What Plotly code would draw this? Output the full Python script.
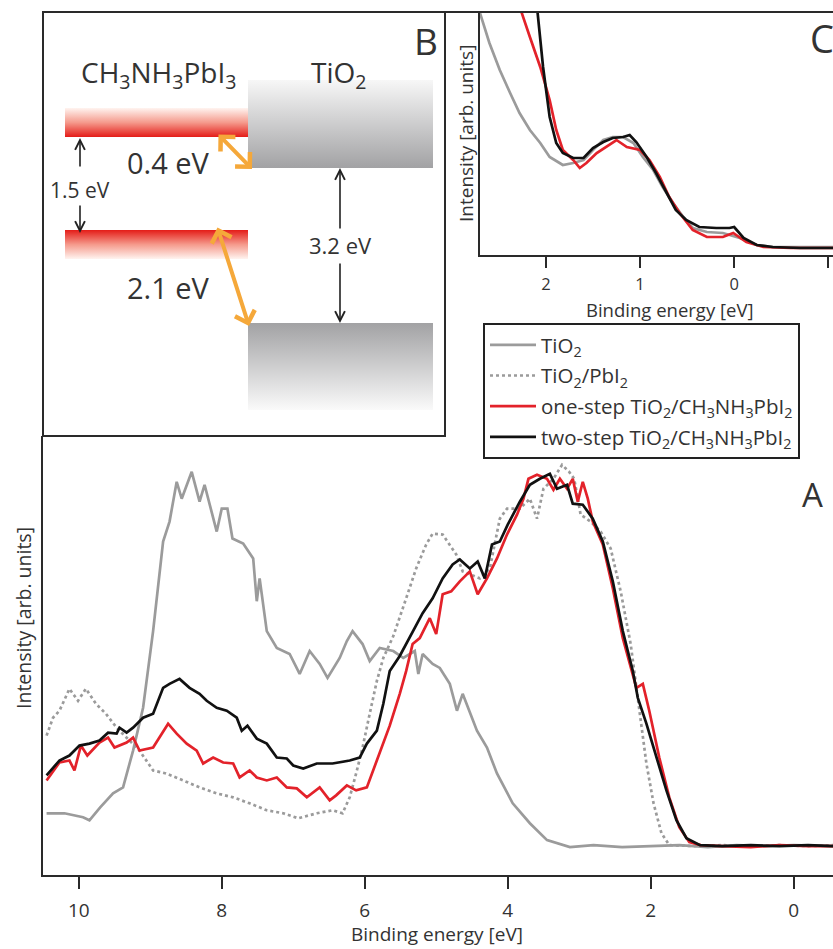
import plotly.graph_objects as go

# ---------------- data: main panel A (binding energy [eV] vs intensity [arb.]) ----------------
e_tio2 = [10.45, 10.2, 9.94, 9.85, 9.7, 9.52, 9.38, 9.24, 9.1, 8.96, 8.82, 8.73, 8.63, 8.56, 8.42,
          8.31, 8.24, 8.07, 8.0, 7.92, 7.85, 7.7, 7.56, 7.51, 7.47, 7.37, 7.23, 7.05, 6.91, 6.77,
          6.63, 6.52, 6.35, 6.25, 6.17, 6.03, 5.93, 5.79, 5.6, 5.46, 5.3, 5.25, 5.19, 5.05, 4.95,
          4.81, 4.71, 4.63, 4.43, 4.29, 4.15, 3.93, 3.69, 3.45, 3.13, 2.8, 2.4, 2.0, 1.6, 1.2,
          0.8, 0.4, 0.0, -0.55]
i_tio2 = [62, 62, 58, 55, 68, 82, 88, 125, 168, 245, 335, 355, 395, 378, 405,
          375, 392, 345, 368, 368, 338, 333, 318, 275, 298, 245, 228, 222, 202, 225,
          212, 198, 218, 235, 245, 232, 215, 228, 225, 218, 225, 202, 222, 212, 208,
          192, 165, 182, 145, 128, 102, 72, 52, 35, 28, 30, 28, 29, 30, 28,
          30, 29, 30, 29]

e_pbi2 = [10.45, 10.36, 10.27, 10.13, 10.01, 9.9, 9.76, 9.62, 9.47, 9.33, 9.15, 8.96, 8.78, 8.54,
          8.31, 8.07, 7.84, 7.61, 7.37, 7.14, 6.93, 6.67, 6.45, 6.31, 6.21, 6.12, 6.03, 5.93, 5.83,
          5.74, 5.6, 5.42, 5.28, 5.14, 5.05, 4.91, 4.81, 4.72, 4.63, 4.53, 4.39, 4.25, 4.11, 4.01,
          3.83, 3.69, 3.59, 3.5, 3.36, 3.24, 3.14, 3.07, 2.98, 2.84, 2.7, 2.56, 2.42, 2.28, 2.14,
          2.06, 1.96, 1.85, 1.74, 1.4, 1.0, 0.6, 0.2, -0.2, -0.55]
i_pbi2 = [140, 158, 165, 187, 175, 187, 172, 162, 148, 138, 125, 105, 102, 95,
          88, 82, 78, 72, 65, 62, 57, 62, 65, 62, 78, 102, 128, 162, 195,
          218, 240, 278, 308, 332, 343, 342, 332, 322, 305, 302, 298, 308, 358, 368,
          368, 378, 358, 388, 398, 412, 405, 398, 362, 355, 345, 328, 285, 232, 158,
          112, 72, 42, 30, 29, 30, 29, 30, 29, 30]

e_one = [10.45, 10.27, 10.13, 10.06, 9.97, 9.88, 9.71, 9.59, 9.5, 9.33, 9.24, 9.15, 8.96, 8.87,
         8.75, 8.63, 8.49, 8.35, 8.26, 8.12, 7.98, 7.84, 7.75, 7.61, 7.51, 7.37, 7.23, 7.09, 6.95,
         6.81, 6.63, 6.49, 6.4, 6.25, 6.12, 5.97, 5.88, 5.79, 5.65, 5.51, 5.42, 5.33, 5.23, 5.09,
         5.0, 4.91, 4.79, 4.67, 4.53, 4.42, 4.29, 4.15, 4.01, 3.87, 3.78, 3.71, 3.59, 3.45, 3.36,
         3.27, 3.17, 3.09, 3.02, 2.95, 2.88, 2.81, 2.67, 2.53, 2.39, 2.2, 2.11, 2.02, 1.88, 1.74,
         1.6, 1.46, 1.3, 1.0, 0.6, 0.2, -0.2, -0.55]
i_one = [95, 113, 115, 105, 130, 120, 133, 138, 128, 133, 138, 125, 128, 138,
         152, 142, 132, 125, 112, 118, 113, 112, 98, 105, 98, 95, 98, 88, 87,
         78, 88, 75, 80, 90, 85, 88, 105, 122, 150, 182, 205, 232, 238, 258,
         242, 282, 285, 295, 305, 282, 298, 318, 342, 362, 378, 398, 402, 398, 387,
         398, 388, 398, 375, 395, 378, 355, 332, 288, 238, 188, 192, 165, 118, 78,
         48, 33, 30, 29, 28, 30, 29, 29]

e_two = [10.45, 10.27, 10.13, 9.99, 9.85, 9.71, 9.59, 9.47, 9.43, 9.33, 9.24, 9.1, 8.96, 8.82,
         8.73, 8.59, 8.45, 8.31, 8.21, 8.07, 7.93, 7.79, 7.72, 7.64, 7.51, 7.37, 7.23, 7.09, 7.0,
         6.86, 6.67, 6.45, 6.21, 6.07, 5.97, 5.83, 5.74, 5.65, 5.51, 5.33, 5.19, 5.05, 4.91, 4.77,
         4.67, 4.53, 4.42, 4.32, 4.22, 4.11, 4.0, 3.83, 3.69, 3.55, 3.41, 3.31, 3.17, 3.09, 2.95,
         2.81, 2.67, 2.53, 2.39, 2.25, 2.18, 2.06, 1.92, 1.78, 1.64, 1.5, 1.31, 1.0, 0.6, 0.2,
         -0.2, -0.55]
i_two = [100, 115, 120, 130, 132, 135, 143, 142, 148, 143, 148, 158, 162, 188,
         192, 197, 188, 182, 175, 168, 165, 158, 145, 150, 137, 132, 118, 117, 110,
         107, 112, 112, 115, 118, 132, 145, 172, 205, 220, 245, 263, 278, 298, 312,
         317, 308, 315, 298, 332, 335, 352, 375, 392, 398, 403, 388, 392, 373, 372,
         358, 335, 295, 245, 205, 178, 152, 118, 85, 55, 37, 30, 29, 30, 29,
         30, 29]

# ---------------- data: inset C (valence band edge zoom) ----------------
c_e_tio2 = [2.75, 2.70, 2.60, 2.49, 2.38, 2.28, 2.17, 2.06, 1.96, 1.82, 1.71, 1.60, 1.50, 1.39, 1.29,
            1.18, 1.07, 0.97, 0.86, 0.76, 0.65, 0.54, 0.44, 0.29, 0.12, -0.06, -0.24, -0.41, -0.78, -1.05]
c_i_tio2 = [250, 242, 212, 185, 162, 142, 125, 112, 98, 90, 92, 95, 105, 115, 118,
            118, 112, 98, 85, 68, 52, 38, 27, 23, 22, 17, 10, 8, 8, 8]
c_e_one = [2.35, 2.26, 2.17, 2.06, 1.96, 1.89, 1.82, 1.71, 1.64, 1.57, 1.46, 1.36, 1.25, 1.14,
           1.0, 0.9, 0.79, 0.69, 0.58, 0.44, 0.29, 0.12, 0.01, -0.13, -0.31, -0.6, -1.05]
c_i_one = [280, 243, 218, 188, 155, 125, 105, 95, 87, 92, 102, 108, 115, 108,
           105, 95, 78, 58, 42, 25, 18, 18, 22, 13, 8, 7, 7]
c_e_two = [2.15, 2.09, 2.03, 1.96, 1.89, 1.82, 1.71, 1.6, 1.5, 1.39, 1.29, 1.18, 1.11, 1.04,
           0.93, 0.83, 0.72, 0.62, 0.51, 0.37, 0.19, 0.05, 0.0, -0.1, -0.24, -0.41, -0.7, -1.05]
c_i_two = [300, 243, 188, 138, 112, 102, 97, 97, 107, 113, 117, 118, 120, 113,
           98, 82, 62, 45, 35, 28, 27, 27, 28, 17, 10, 8, 7, 7]

# ---------------- tick labels ----------------
main_tick_vals = [10, 8, 6, 4, 2, 0]
main_tick_text = ['10', '8', '6', '4', '2', '0']
c_tick_vals = [2, 1, 0, -1]
c_tick_text = ['2', '1', '0', '-1']

series_names = ['TiO<sub>2</sub>', 'TiO<sub>2</sub>/PbI<sub>2</sub>',
                'one-step TiO<sub>2</sub>/CH<sub>3</sub>NH<sub>3</sub>PbI<sub>2</sub>',
                'two-step TiO<sub>2</sub>/CH<sub>3</sub>NH<sub>3</sub>PbI<sub>2</sub>']

# ---------------- panel B schematic labels ----------------
band_labels = ['0.4 eV', '2.1 eV', '1.5 eV', '3.2 eV']

GRAY = '#9b9b9b'
RED = '#e3222a'
BLACK = '#111111'
ORANGE = '#f5a83a'
TXT = '#333333'
FONT = 'Open Sans, sans-serif'

W, H = 833, 949

fig = go.Figure()

# main panel traces
lw = 2.7
fig.add_trace(go.Scatter(x=e_tio2, y=i_tio2, mode='lines', name=series_names[0], legendgroup='g1',
                         line=dict(color=GRAY, width=lw), xaxis='x', yaxis='y'))
fig.add_trace(go.Scatter(x=e_pbi2, y=i_pbi2, mode='lines', name=series_names[1], legendgroup='g2',
                         line=dict(color=GRAY, width=lw, dash='dot'), xaxis='x', yaxis='y'))
fig.add_trace(go.Scatter(x=e_one, y=i_one, mode='lines', name=series_names[2], legendgroup='g3',
                         line=dict(color=RED, width=lw), xaxis='x', yaxis='y'))
fig.add_trace(go.Scatter(x=e_two, y=i_two, mode='lines', name=series_names[3], legendgroup='g4',
                         line=dict(color=BLACK, width=lw), xaxis='x', yaxis='y'))

# inset C traces
fig.add_trace(go.Scatter(x=c_e_tio2, y=c_i_tio2, mode='lines', showlegend=False,
                         line=dict(color=GRAY, width=lw), xaxis='x2', yaxis='y2'))
fig.add_trace(go.Scatter(x=c_e_one, y=c_i_one, mode='lines', showlegend=False,
                         line=dict(color=RED, width=lw), xaxis='x2', yaxis='y2'))
fig.add_trace(go.Scatter(x=c_e_two, y=c_i_two, mode='lines', showlegend=False,
                         line=dict(color=BLACK, width=lw), xaxis='x2', yaxis='y2'))


# panel B gradient blocks (pixel-space overlay axes x3/y3)
def block(x0, x1, y0, y1, scale):
    return go.Scatter(x=[x0, x1, x1, x0, x0], y=[y0, y0, y1, y1, y0], mode='lines', fill='toself',
                      fillgradient=dict(type='vertical', colorscale=scale, start=y0, stop=y1),
                      line=dict(width=0, color='rgba(0,0,0,0)'), hoverinfo='skip', showlegend=False,
                      xaxis='x3', yaxis='y3')


red_down = [[0, '#fff4f0'], [0.5, '#f59a8c'], [1, '#e41c18']]
red_up = [[0, '#e41c18'], [0.5, '#f59a8c'], [1, '#fff4f0']]
gray_down = [[0, '#f7f7f7'], [1, '#a2a2a4']]
gray_up = [[0, '#a2a2a4'], [1, '#fafafa']]
fig.add_trace(block(65, 248, 108, 137, red_down))
fig.add_trace(block(65, 248, 230, 259, red_up))
fig.add_trace(block(248, 433, 80, 168, gray_down))
fig.add_trace(block(248, 433, 323, 410, gray_up))

shapes = [
    dict(type='rect', xref='x3', yref='y3', x0=43, x1=445, y0=12, y1=436,
         line=dict(color='#2a2a2a', width=2), fillcolor='rgba(0,0,0,0)'),
    dict(type='line', xref='x3', yref='y3', x0=445, x1=833, y0=12, y1=12,
         line=dict(color='#2a2a2a', width=2)),
]

ann = []


def txt(x, y, s, size, angle=0, color=TXT):
    ann.append(dict(x=x, y=y, xref='x3', yref='y3', text=s, showarrow=False, textangle=angle,
                    font=dict(size=size, color=color, family=FONT), xanchor='center', yanchor='middle'))


def arrow(x, y, ax, ay, color, width, head, size, both=False):
    ann.append(dict(x=x, y=y, ax=ax, ay=ay, xref='x3', yref='y3', axref='x3', ayref='y3', text='',
                    showarrow=True, arrowhead=head, startarrowhead=head, arrowsize=size,
                    startarrowsize=size, arrowwidth=width, arrowcolor=color,
                    arrowside='end+start' if both else 'end'))


txt(426, 40, 'B', 37)
txt(158, 74, 'CH<sub>3</sub>NH<sub>3</sub>PbI<sub>3</sub>', 28)
txt(339, 74, 'TiO<sub>2</sub>', 28)
txt(168, 162, band_labels[0], 29)
txt(168, 287, band_labels[1], 29)
txt(80, 190, band_labels[2], 21)
txt(340, 245, band_labels[3], 22)
arrow(80, 138, 80, 168, '#222', 1.6, 5, 1.2)
arrow(80, 233, 80, 204, '#222', 1.6, 5, 1.2)
arrow(340, 168, 340, 230, '#222', 1.6, 5, 1.2)
arrow(340, 323, 340, 262, '#222', 1.6, 5, 1.2)
arrow(252, 169, 217, 133, ORANGE, 4, 4, 1.0, both=True)
arrow(249, 326, 217, 226, ORANGE, 4, 4, 1.0, both=True)

txt(812, 494, 'A', 33)
txt(822, 38, 'C', 38)
txt(437, 934, 'Binding energy [eV]', 19)
txt(23, 618, 'Intensity [arb. units]', 19.5, angle=-90)
txt(466, 134, 'Intensity [arb. units]', 19, angle=-90)
txt(669, 309, 'Binding energy [eV]', 18.5)

axis_common = dict(showgrid=False, zeroline=False, showline=True, linecolor='#2a2a2a', linewidth=2)

fig.update_layout(
    width=W, height=H, margin=dict(l=0, r=0, t=0, b=0),
    paper_bgcolor='white', plot_bgcolor='rgba(0,0,0,0)',
    font=dict(family=FONT, color=TXT),
    hovermode=False,
    xaxis=dict(domain=[43 / W, 1], range=[10.5, -0.55], anchor='y', ticks='outside', ticklen=12,
               tickwidth=2, tickcolor='#2a2a2a', tickvals=main_tick_vals, ticktext=main_tick_text,
               tickfont=dict(size=19, color=TXT), ticklabelstandoff=5, **axis_common),
    yaxis=dict(domain=[1 - 875 / H, 1 - 436 / H], range=[0, 441], anchor='x', showticklabels=False,
               ticks='', **axis_common),
    xaxis2=dict(domain=[480 / W, 1], range=[2.70, -1.05], anchor='y2', ticks='outside', ticklen=11,
                tickwidth=2, tickcolor='#2a2a2a', tickvals=c_tick_vals, ticktext=c_tick_text,
                tickfont=dict(size=16.5, color=TXT), ticklabelstandoff=2, **axis_common),
    yaxis2=dict(domain=[1 - 255 / H, 1 - 12 / H], range=[0, 243], anchor='x2', showticklabels=False,
                ticks='', **axis_common),
    xaxis3=dict(domain=[0, 1], range=[0, W], anchor='y3', visible=False, fixedrange=True),
    yaxis3=dict(domain=[0, 1], range=[H, 0], anchor='x3', visible=False, fixedrange=True),
    legend=dict(x=483 / W, y=1 - 323 / H, xanchor='left', yanchor='top', bgcolor='white',
                bordercolor='#222', borderwidth=2, font=dict(size=20.5, color=TXT, family=FONT),
                tracegroupgap=1, itemwidth=46),
    shapes=shapes,
    annotations=ann,
)

fig.write_html('out.html')
